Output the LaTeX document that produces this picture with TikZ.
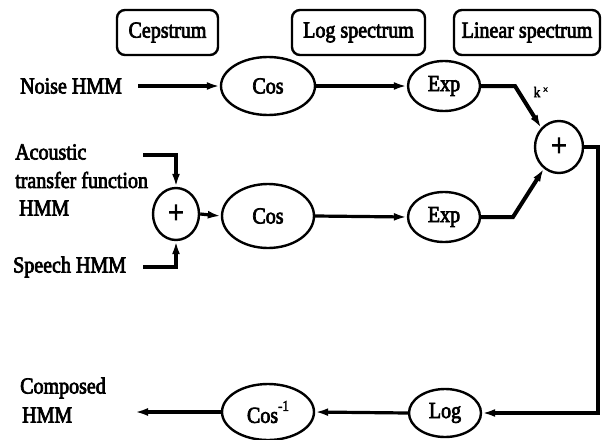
\documentclass[tikz,border=0pt]{standalone}
\usepackage{fontspec}
\setmainfont{Liberation Serif}[FakeStretch=0.87,FakeBold=3]
\usetikzlibrary{arrows.meta,shapes.geometric}

\tikzset{
  lbl/.style={font=\fontsize{23}{28}\selectfont, inner sep=0pt},
  oper/.style={draw, ellipse, line width=2.4pt, inner sep=0pt,
               font=\fontsize{23}{28}\selectfont},
  sumnode/.style={oper, font=\fontsize{32}{32}\selectfont},
  hdrbox/.style={draw, rounded corners=8pt, line width=2.4pt, inner sep=0pt,
                 font=\fontsize{23}{28}\selectfont},
  flow/.style={line width=3.2pt, -{Latex[length=13pt,width=8pt]}},
  heavy/.style={flow, line width=4pt}
}

\begin{document}
\begin{tikzpicture}[x=1pt,y=-1pt]
  \useasboundingbox (0,0) rectangle (604,439);

  % domain headers
  \node[hdrbox, minimum width=101pt, minimum height=45pt] (cep) at (167.5,32.5) {Cepstrum};
  \node[hdrbox, minimum width=133pt, minimum height=45pt] (logsp) at (358.5,32.5) {Log spectrum};
  \node[hdrbox, minimum width=146pt, minimum height=45pt] (linsp) at (527,32.5) {Linear spectrum};

  % operators
  \node[oper, minimum width=94pt, minimum height=58pt] (cos1) at (268,86) {Cos};
  \node[oper, minimum width=72pt, minimum height=50pt] (exp1) at (444,86) {Exp};
  \node[sumnode, minimum width=46pt, minimum height=52pt] (plus2) at (176,214) {+};
  \node[oper, minimum width=92pt, minimum height=64pt] (cos2) at (268,216) {Cos};
  \node[oper, minimum width=72pt, minimum height=50pt] (exp2) at (444,217) {Exp};
  \node[sumnode, minimum width=48pt, minimum height=52pt] (plus1) at (559,147) {+};
  \node[oper, minimum width=72pt, minimum height=48pt] (log) at (445,413) {Log};
  \node[oper, minimum width=92pt, minimum height=56pt] (cosinv) at (268,412)
    {Cos\raisebox{12pt}{\fontsize{15}{15}\selectfont -1}};

  % input and output labels
  \node[lbl, anchor=west] (noise) at (20,86) {Noise HMM};
  \node[lbl, anchor=west] (ac1) at (15,152) {Acoustic};
  \node[lbl, anchor=west] (ac2) at (15,180) {transfer function};
  \node[lbl, anchor=west] (ac3) at (19,208) {HMM};
  \node[lbl, anchor=west] (speech) at (13,267) {Speech HMM};
  \node[lbl, anchor=west] (comp1) at (20,388) {Composed};
  \node[lbl, anchor=west] (comp2) at (22,415) {HMM};
  \node[inner sep=0pt, font=\fontsize{15}{15}\selectfont] (kx) at (541,92)
    {k\,\raisebox{4pt}{\fontsize{11}{11}\selectfont ×}};

  % connector end points
  \coordinate (noiseout) at (138,86);
  \coordinate (acout) at (143,155);
  \coordinate (spout) at (143,267);
  \coordinate (bend1) at (515,86);
  \coordinate (bend2) at (513,217);
  \coordinate (rside) at (598,147);
  \coordinate (result) at (135,412);

  % signal flow
  \draw[flow] (noiseout) -- (cos1.west);
  \draw[flow] (cos1.east) -- (exp1.west);
  \draw[heavy] (exp1.east) -- (bend1) -- (plus1.133);
  \draw[flow] (acout) -| (plus2.north);
  \draw[flow] (spout) -| (plus2.south);
  \draw[flow] (plus2.east) -- (cos2.west);
  \draw[flow] (cos2.east) -- (exp2.west);
  \draw[heavy] (exp2.east) -- (bend2) -- (plus1.235);
  \draw[flow] (plus1.east) -- (rside) |- (log.east);
  \draw[flow] (log.west) -- (cosinv.east);
  \draw[flow] (cosinv.west) -- (result);
\end{tikzpicture}
\end{document}
